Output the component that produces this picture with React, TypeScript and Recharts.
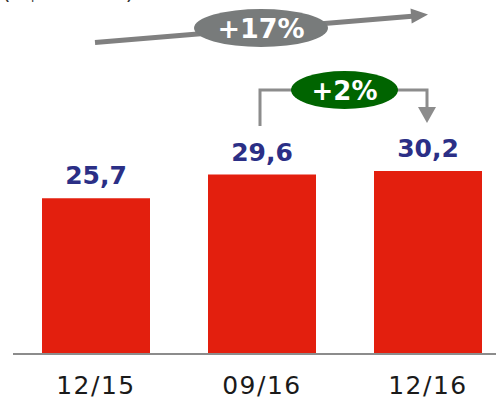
import React from 'react';
import { BarChart, Bar, XAxis, YAxis, LabelList } from 'recharts';

const periods = ['12/15', '09/16', '12/16'];
const balances = [25.7, 29.6, 30.2];
const yearGrowth = '+17%';
const quarterGrowth = '+2%';
const unitLabel = '(R$ bilhões)';

const data = periods.map((period, i) => ({ period, value: balances[i] }));

const fmt = (v: number) => v.toFixed(1).replace('.', ',');

const FONT = '"DejaVu Sans", Verdana, sans-serif';

export default function App() {
  return (
    <div style={{ position: 'fixed', left: 0, top: 0, width: 496, height: 399, overflow: 'hidden', background: '#fff' }}>
      <BarChart
        width={520}
        height={399}
        data={data}
        margin={{ top: 51, right: 9, left: 13, bottom: 0 }}
        style={{ fontFamily: FONT }}
      >
        <XAxis
          dataKey="period"
          height={45}
          tickLine={false}
          tickSize={6}
          tickMargin={16}
          axisLine={{ stroke: '#8c8c8c', strokeWidth: 2 }}
          tick={{ fill: '#1a1a1a', fontSize: 25, letterSpacing: 1.5, fontFamily: FONT }}
          interval={0}
        />
        <YAxis hide domain={[0, 50]} />
        <Bar dataKey="value" fill="#e31f0e" barSize={108} isAnimationActive={false}>
          <LabelList
            dataKey="value"
            position="top"
            offset={14}
            formatter={(v: any) => fmt(Number(v))}
            style={{ fill: '#2b2f86', fontSize: 25, fontWeight: 'bold', fontFamily: FONT }}
          />
        </Bar>

        {/* unit caption, cut off at the top edge */}
        <text x={2} y={-1} fontSize={22} fill="#333" fontFamily={FONT}>{unitLabel}</text>

        {/* long-term growth arrow */}
        <line x1={95} y1={42.5} x2={412} y2={16.2} stroke="#808080" strokeWidth={5} />
        <polygon points="428,14.5 411.7,23.4 410.5,8.4" fill="#808080" />
        <ellipse cx={261} cy={28} rx={67} ry={19} fill="#787b7b" />
        <text x={261} y={38} textAnchor="middle" fontSize={27} fontWeight="bold" fill="#fff" fontFamily={FONT}>{yearGrowth}</text>

        {/* quarter growth bracket */}
        <polyline points="260,126 260,90 292,90" fill="none" stroke="#8c8c8c" strokeWidth={3} />
        <polyline points="397,90 427,90 427,108" fill="none" stroke="#8c8c8c" strokeWidth={3} />
        <polygon points="418,107 436,107 427,123" fill="#8c8c8c" />
        <ellipse cx={344.5} cy={90} rx={53.5} ry={19} fill="#006400" />
        <text x={344.5} y={100} textAnchor="middle" fontSize={26} fontWeight="bold" fill="#fff" fontFamily={FONT}>{quarterGrowth}</text>
      </BarChart>
    </div>
  );
}
